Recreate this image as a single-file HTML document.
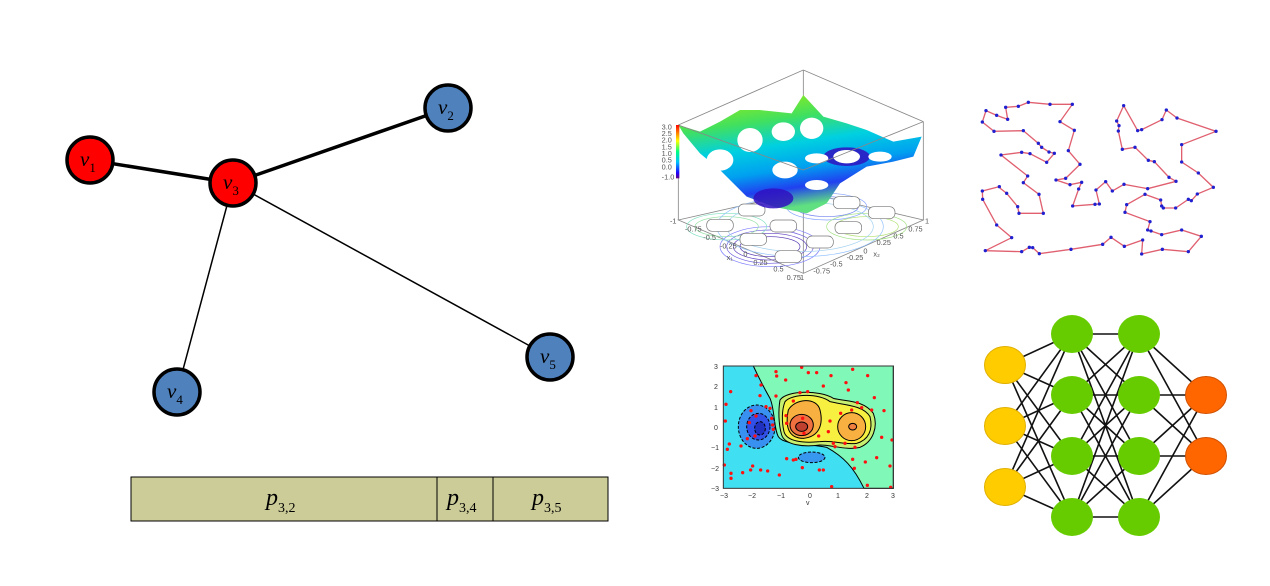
<!DOCTYPE html>
<html><head><meta charset="utf-8"><style>
html,body{margin:0;padding:0;background:#fff;}
svg{display:block}
</style></head><body>
<svg width="1270" height="586" viewBox="0 0 1270 586" xmlns="http://www.w3.org/2000/svg">
<g stroke="#000">
<line x1="90" y1="160" x2="233" y2="183" stroke-width="3.5"/>
<line x1="233" y1="183" x2="448" y2="108" stroke-width="3.5"/>
<line x1="233" y1="183" x2="177" y2="392" stroke-width="1.5"/>
<line x1="233" y1="183" x2="550" y2="357" stroke-width="1.5"/>
</g>
<g stroke="#000" stroke-width="3.5">
<circle cx="90" cy="160" r="23" fill="#ff0000"/>
<circle cx="233" cy="183" r="23" fill="#ff0000"/>
<circle cx="448" cy="108" r="23" fill="#4f81bd"/>
<circle cx="177" cy="392" r="23" fill="#4f81bd"/>
<circle cx="550" cy="357" r="23" fill="#4f81bd"/>
</g>
<g font-family="Liberation Serif, serif" font-style="italic" font-size="21" fill="#000">
<text x="80" y="166">v<tspan font-size="13" font-style="normal" dy="6">1</tspan></text>
<text x="223" y="189">v<tspan font-size="13" font-style="normal" dy="6">3</tspan></text>
<text x="438" y="114">v<tspan font-size="13" font-style="normal" dy="6">2</tspan></text>
<text x="167" y="398">v<tspan font-size="13" font-style="normal" dy="6">4</tspan></text>
<text x="540" y="363">v<tspan font-size="13" font-style="normal" dy="6">5</tspan></text>
</g>
<rect x="131" y="477" width="477" height="44" fill="#cccc99" stroke="#000" stroke-width="1"/>
<line x1="437" y1="477" x2="437" y2="521" stroke="#000"/>
<line x1="493" y1="477" x2="493" y2="521" stroke="#000"/>
<g font-family="Liberation Serif, serif" font-style="italic" font-size="24" fill="#000">
<text x="266" y="505">p<tspan font-size="14" font-style="normal" dy="7">3,2</tspan></text>
<text x="447" y="505">p<tspan font-size="14" font-style="normal" dy="7">3,4</tspan></text>
<text x="532" y="505">p<tspan font-size="14" font-style="normal" dy="7">3,5</tspan></text>
</g>

<defs>
<linearGradient id="sg" x1="0" y1="0" x2="0.3" y2="1">
<stop offset="0" stop-color="#b0f000"/>
<stop offset="0.3" stop-color="#40e060"/>
<stop offset="0.5" stop-color="#00d0e0"/>
<stop offset="0.7" stop-color="#00a0f0"/>
<stop offset="0.85" stop-color="#2040f0"/>
<stop offset="1" stop-color="#60e080"/>
</linearGradient>
<linearGradient id="cb" x1="0" y1="0" x2="0" y2="1">
<stop offset="0" stop-color="#ff0000"/><stop offset="0.3" stop-color="#ffff00"/>
<stop offset="0.5" stop-color="#00ff80"/><stop offset="0.7" stop-color="#00c0ff"/>
<stop offset="0.9" stop-color="#2000ff"/><stop offset="1" stop-color="#600080"/>
</linearGradient>
</defs>
<g transform="translate(660,60) scale(0.33333)">
<g stroke="#888" stroke-width="2.5" fill="none">
<polygon points="55,480 430,395 790,480 430,640" fill="#fff"/>
<line x1="55" y1="195" x2="55" y2="480"/>
<line x1="790" y1="185" x2="790" y2="480"/>
<line x1="430" y1="30" x2="430" y2="395"/>
<line x1="430" y1="330" x2="430" y2="640"/>
<line x1="55" y1="195" x2="430" y2="30"/>
<line x1="430" y1="30" x2="790" y2="185"/>
</g>
<g fill="none" stroke-width="2">
<ellipse cx="330" cy="560" rx="150" ry="60" stroke="#8080ff"/>
<ellipse cx="330" cy="560" rx="130" ry="50" stroke="#7060e0"/>
<ellipse cx="330" cy="560" rx="110" ry="40" stroke="#6040c0"/>
<ellipse cx="330" cy="560" rx="90" ry="30" stroke="#5030b0"/>
<ellipse cx="500" cy="440" rx="120" ry="40" stroke="#80a0ff"/>
<ellipse cx="500" cy="440" rx="95" ry="30" stroke="#7080f0"/>
<ellipse cx="200" cy="500" rx="120" ry="40" stroke="#80e0c0"/>
<ellipse cx="200" cy="500" rx="95" ry="30" stroke="#90e0a0"/>
<ellipse cx="620" cy="500" rx="120" ry="40" stroke="#a0e080"/>
<ellipse cx="620" cy="500" rx="95" ry="30" stroke="#b0e070"/>
<ellipse cx="420" cy="500" rx="250" ry="90" stroke="#90c0ff"/>
<ellipse cx="420" cy="500" rx="220" ry="75" stroke="#a0d0f0"/>
</g>
<g fill="#fff" stroke="#777" stroke-width="2">
<rect x="235" y="432" width="80" height="36" rx="16"/>
<rect x="140" y="478" width="80" height="36" rx="16"/>
<rect x="330" y="480" width="80" height="36" rx="16"/>
<rect x="240" y="520" width="80" height="36" rx="16"/>
<rect x="345" y="572" width="80" height="36" rx="16"/>
<rect x="440" y="528" width="80" height="36" rx="16"/>
<rect x="525" y="485" width="80" height="36" rx="16"/>
<rect x="625" y="440" width="80" height="36" rx="16"/>
<rect x="520" y="410" width="80" height="36" rx="16"/>
</g>
<polygon points="55,195 120,215 180,185 240,150 300,150 395,160 430,105 490,170 560,190 620,210 700,245 785,230 760,290 700,305 620,320 540,370 500,430 440,460 340,440 260,410 230,380 180,330 120,280 70,220" fill="url(#sg)"/>
<ellipse cx="340" cy="415" rx="60" ry="30" fill="#3010c0" opacity="0.85"/>
<ellipse cx="560" cy="290" rx="70" ry="28" fill="#3010c0" opacity="0.85"/>
<g fill="#fff">
<ellipse cx="270" cy="240" rx="38" ry="36"/>
<ellipse cx="370" cy="215" rx="35" ry="28"/>
<ellipse cx="455" cy="205" rx="35" ry="32"/>
<ellipse cx="180" cy="300" rx="40" ry="32"/>
<ellipse cx="375" cy="330" rx="38" ry="25"/>
<ellipse cx="560" cy="290" rx="40" ry="20"/>
<ellipse cx="470" cy="295" rx="35" ry="15"/>
<ellipse cx="470" cy="375" rx="35" ry="15"/>
<ellipse cx="660" cy="290" rx="35" ry="15"/>
</g>
<g stroke="#888" stroke-width="2.5" fill="none">
<line x1="55" y1="195" x2="430" y2="330"/>
<line x1="790" y1="185" x2="430" y2="330"/>
</g>
<rect x="48" y="195" width="10" height="160" fill="url(#cb)"/>
<g font-family="Liberation Sans, sans-serif" font-size="22" fill="#555">
<text x="5" y="208">3.0</text><text x="5" y="228">2.5</text><text x="5" y="248">2.0</text>
<text x="5" y="268">1.5</text><text x="5" y="288">1.0</text><text x="5" y="308">0.5</text>
<text x="5" y="328">0.0</text><text x="5" y="358">-1.0</text>
<text x="30" y="490">-1</text><text x="75" y="515">-0.75</text><text x="130" y="540">-0.5</text>
<text x="180" y="565">-0.25</text><text x="250" y="590">0</text><text x="280" y="615">0.25</text>
<text x="340" y="635">0.5</text><text x="380" y="660">0.75</text><text x="420" y="660">1</text>
<text x="200" y="600">x₁</text><text x="640" y="590">x₂</text>
<text x="795" y="490">1</text><text x="745" y="515">0.75</text><text x="700" y="535">0.5</text>
<text x="650" y="555">0.25</text><text x="610" y="580">0</text><text x="560" y="600">-0.25</text>
<text x="510" y="620">-0.5</text><text x="460" y="640">-0.75</text>
</g>
</g>

<g transform="translate(970,90) scale(0.33333)">
<polyline fill="none" stroke="#e06070" stroke-width="4" points="46,482 125,443 80,405 38,328 37,303 88,290 92,296 110,310 143,350 147,370 220,370 207,313 160,278 173,258 93,195 155,187 180,191 230,217 253,190 237,186 215,172 205,160 160,122 72,124 37,96 48,62 80,76 113,88 107,52 145,49 175,37 240,43 307,43 270,95 313,121 295,182 330,223 287,265 258,270 300,284 335,277 326,297 308,348 375,343 388,342 378,300 407,275 427,303 462,283 533,296 618,274 597,262 553,215 535,211 495,172 457,178 445,123 447,107 440,93 461,47 503,122 515,119 576,89 589,60 621,84 738,124 635,164 635,216 685,249 730,292 682,312 664,332 655,328 617,354 580,354 575,348 572,330 525,313 470,344 465,367 540,395 533,420 543,423 575,434 635,420 694,439 655,485 577,478 515,492 518,450 463,469 423,442 398,463 303,478 208,491 188,473 178,472 155,485 46,482"/>
<g fill="#2020d0">
<circle cx="46" cy="482" r="5"/><circle cx="125" cy="443" r="5"/><circle cx="80" cy="405" r="5"/><circle cx="38" cy="328" r="5"/><circle cx="37" cy="303" r="5"/><circle cx="88" cy="290" r="5"/><circle cx="110" cy="310" r="5"/><circle cx="143" cy="350" r="5"/><circle cx="147" cy="370" r="5"/><circle cx="220" cy="370" r="5"/><circle cx="207" cy="313" r="5"/><circle cx="160" cy="278" r="5"/><circle cx="173" cy="258" r="5"/><circle cx="93" cy="195" r="5"/><circle cx="155" cy="187" r="5"/><circle cx="180" cy="191" r="5"/><circle cx="230" cy="217" r="5"/><circle cx="253" cy="190" r="5"/><circle cx="237" cy="186" r="5"/><circle cx="215" cy="172" r="5"/><circle cx="205" cy="160" r="5"/><circle cx="160" cy="122" r="5"/><circle cx="72" cy="124" r="5"/><circle cx="37" cy="96" r="5"/><circle cx="48" cy="62" r="5"/><circle cx="80" cy="76" r="5"/><circle cx="113" cy="88" r="5"/><circle cx="107" cy="52" r="5"/><circle cx="145" cy="49" r="5"/><circle cx="175" cy="37" r="5"/><circle cx="240" cy="43" r="5"/><circle cx="307" cy="43" r="5"/><circle cx="270" cy="95" r="5"/><circle cx="313" cy="121" r="5"/><circle cx="295" cy="182" r="5"/><circle cx="330" cy="223" r="5"/><circle cx="287" cy="265" r="5"/><circle cx="258" cy="270" r="5"/><circle cx="300" cy="284" r="5"/><circle cx="335" cy="277" r="5"/><circle cx="326" cy="297" r="5"/><circle cx="308" cy="348" r="5"/><circle cx="375" cy="343" r="5"/><circle cx="388" cy="342" r="5"/><circle cx="378" cy="300" r="5"/><circle cx="407" cy="275" r="5"/><circle cx="427" cy="303" r="5"/><circle cx="462" cy="283" r="5"/><circle cx="533" cy="296" r="5"/><circle cx="618" cy="274" r="5"/><circle cx="597" cy="262" r="5"/><circle cx="553" cy="215" r="5"/><circle cx="535" cy="211" r="5"/><circle cx="495" cy="172" r="5"/><circle cx="457" cy="178" r="5"/><circle cx="445" cy="123" r="5"/><circle cx="447" cy="107" r="5"/><circle cx="440" cy="93" r="5"/><circle cx="461" cy="47" r="5"/><circle cx="503" cy="122" r="5"/><circle cx="515" cy="119" r="5"/><circle cx="576" cy="89" r="5"/><circle cx="589" cy="60" r="5"/><circle cx="621" cy="84" r="5"/><circle cx="738" cy="124" r="5"/><circle cx="635" cy="164" r="5"/><circle cx="635" cy="216" r="5"/><circle cx="685" cy="249" r="5"/><circle cx="730" cy="292" r="5"/><circle cx="682" cy="312" r="5"/><circle cx="664" cy="332" r="5"/><circle cx="655" cy="328" r="5"/><circle cx="617" cy="354" r="5"/><circle cx="580" cy="354" r="5"/><circle cx="575" cy="348" r="5"/><circle cx="572" cy="330" r="5"/><circle cx="525" cy="313" r="5"/><circle cx="470" cy="344" r="5"/><circle cx="465" cy="367" r="5"/><circle cx="540" cy="395" r="5"/><circle cx="533" cy="420" r="5"/><circle cx="543" cy="423" r="5"/><circle cx="575" cy="434" r="5"/><circle cx="635" cy="420" r="5"/><circle cx="694" cy="439" r="5"/><circle cx="655" cy="485" r="5"/><circle cx="577" cy="478" r="5"/><circle cx="515" cy="492" r="5"/><circle cx="518" cy="450" r="5"/><circle cx="463" cy="469" r="5"/><circle cx="423" cy="442" r="5"/><circle cx="398" cy="463" r="5"/><circle cx="303" cy="478" r="5"/><circle cx="208" cy="491" r="5"/><circle cx="188" cy="473" r="5"/><circle cx="178" cy="472" r="5"/><circle cx="155" cy="485" r="5"/>
</g>
</g>

<g transform="translate(720,360) scale(0.33333)">
<rect x="10" y="18" width="510" height="367" fill="#40e0f2"/>
<path d="M100,18 L520,18 L520,385 L432,385 C400,320 370,290 320,262 C260,250 190,255 175,230 C160,200 165,150 150,115 C130,80 115,50 100,18 Z" fill="#80f8b8" stroke="#000" stroke-width="3"/>
<path d="M180,120 C200,90 300,90 340,115 C380,125 430,120 460,160 C475,200 460,245 420,262 C380,272 340,255 300,255 C250,262 195,255 185,225 C175,190 175,150 180,120 Z" fill="#c8f070" stroke="#000" stroke-width="3"/>
<path d="M195,125 C215,100 300,100 330,125 C370,135 430,135 450,170 C460,210 445,240 410,250 C370,255 340,240 300,245 C250,250 200,245 192,215 C185,185 185,150 195,125 Z" fill="#f8f040" stroke="#000" stroke-width="3"/>
<path d="M205,150 C225,115 290,110 300,150 C310,190 300,230 250,235 C205,235 195,200 205,150 Z" fill="#f8b040" stroke="#000" stroke-width="3"/>
<ellipse cx="395" cy="200" rx="42" ry="42" fill="#f8b040" stroke="#000" stroke-width="3"/>
<ellipse cx="398" cy="200" rx="12" ry="10" fill="#f08040" stroke="#000" stroke-width="3"/>
<ellipse cx="245" cy="195" rx="35" ry="32" fill="#f07040" stroke="#000" stroke-width="3"/>
<ellipse cx="245" cy="200" rx="18" ry="14" fill="#c04030" stroke="#000" stroke-width="3"/>
<ellipse cx="110" cy="200" rx="55" ry="65" fill="#3890f0" stroke="#000" stroke-width="3" stroke-dasharray="9,5"/>
<ellipse cx="115" cy="200" rx="35" ry="40" fill="#3050e8" stroke="#000" stroke-width="3" stroke-dasharray="9,5"/>
<ellipse cx="120" cy="205" rx="16" ry="20" fill="#2030c0" stroke="#000" stroke-width="3" stroke-dasharray="9,5"/>
<ellipse cx="275" cy="292" rx="40" ry="16" fill="#3898f0" stroke="#000" stroke-width="3" stroke-dasharray="9,5"/>
<g fill="#ff1010">
<circle cx="108" cy="47" r="5"/><circle cx="168" cy="35" r="5"/><circle cx="245" cy="22" r="5"/><circle cx="265" cy="38" r="5"/><circle cx="290" cy="38" r="5"/><circle cx="333" cy="47" r="5"/><circle cx="398" cy="28" r="5"/><circle cx="443" cy="47" r="5"/><circle cx="378" cy="68" r="5"/><circle cx="385" cy="90" r="5"/><circle cx="463" cy="113" r="5"/><circle cx="492" cy="152" r="5"/><circle cx="516" cy="240" r="5"/><circle cx="485" cy="232" r="5"/><circle cx="436" cy="306" r="5"/><circle cx="470" cy="293" r="5"/><circle cx="510" cy="318" r="5"/><circle cx="398" cy="298" r="5"/><circle cx="403" cy="325" r="5"/><circle cx="442" cy="376" r="5"/><circle cx="512" cy="382" r="5"/><circle cx="335" cy="380" r="5"/><circle cx="298" cy="330" r="5"/><circle cx="310" cy="330" r="5"/><circle cx="247" cy="323" r="5"/><circle cx="220" cy="300" r="5"/><circle cx="200" cy="296" r="5"/><circle cx="178" cy="345" r="5"/><circle cx="143" cy="333" r="5"/><circle cx="122" cy="330" r="5"/><circle cx="98" cy="318" r="5"/><circle cx="92" cy="330" r="5"/><circle cx="68" cy="338" r="5"/><circle cx="33" cy="340" r="5"/><circle cx="33" cy="355" r="5"/><circle cx="13" cy="315" r="5"/><circle cx="22" cy="268" r="5"/><circle cx="28" cy="252" r="5"/><circle cx="63" cy="258" r="5"/><circle cx="16" cy="183" r="5"/><circle cx="18" cy="133" r="5"/><circle cx="32" cy="95" r="5"/><circle cx="120" cy="107" r="5"/><circle cx="123" cy="75" r="5"/><circle cx="197" cy="60" r="5"/><circle cx="170" cy="48" r="5"/><circle cx="168" cy="108" r="5"/><circle cx="240" cy="98" r="5"/><circle cx="263" cy="95" r="5"/><circle cx="310" cy="78" r="5"/><circle cx="220" cy="123" r="5"/><circle cx="198" cy="167" r="5"/><circle cx="200" cy="190" r="5"/><circle cx="248" cy="175" r="5"/><circle cx="252" cy="220" r="5"/><circle cx="296" cy="228" r="5"/><circle cx="330" cy="183" r="5"/><circle cx="325" cy="215" r="5"/><circle cx="340" cy="250" r="5"/><circle cx="345" cy="260" r="5"/><circle cx="362" cy="160" r="5"/><circle cx="395" cy="150" r="5"/><circle cx="425" cy="143" r="5"/><circle cx="412" cy="128" r="5"/><circle cx="375" cy="250" r="5"/><circle cx="405" cy="262" r="5"/><circle cx="455" cy="150" r="5"/><circle cx="88" cy="188" r="5"/><circle cx="108" cy="168" r="5"/><circle cx="93" cy="152" r="5"/><circle cx="155" cy="175" r="5"/><circle cx="158" cy="195" r="5"/><circle cx="160" cy="208" r="5"/><circle cx="150" cy="145" r="5"/><circle cx="138" cy="140" r="5"/><circle cx="105" cy="228" r="5"/><circle cx="82" cy="236" r="5"/><circle cx="228" cy="298" r="5"/>
</g>
<rect x="10" y="18" width="510" height="367" fill="none" stroke="#333" stroke-width="3"/>
</g>
<g font-family="Liberation Sans, sans-serif" font-size="7" fill="#333">
<text x="714" y="369">3</text><text x="714" y="389">2</text><text x="714" y="410">1</text><text x="714" y="430">0</text>
<text x="711" y="450">−1</text><text x="711" y="471">−2</text><text x="711" y="491">−3</text>
<text x="720" y="498">−3</text><text x="748" y="498">−2</text><text x="777" y="498">−1</text><text x="808" y="498">0</text>
<text x="836" y="498">1</text><text x="865" y="498">2</text><text x="891" y="498">3</text>
<text x="806" y="505">v</text>
</g>

<g stroke="#111" stroke-width="1.6">
<line x1="1005" y1="365" x2="1072" y2="334"/><line x1="1005" y1="365" x2="1072" y2="395"/><line x1="1005" y1="365" x2="1072" y2="456"/><line x1="1005" y1="365" x2="1072" y2="517"/>
<line x1="1005" y1="426" x2="1072" y2="334"/><line x1="1005" y1="426" x2="1072" y2="395"/><line x1="1005" y1="426" x2="1072" y2="456"/><line x1="1005" y1="426" x2="1072" y2="517"/>
<line x1="1005" y1="487" x2="1072" y2="334"/><line x1="1005" y1="487" x2="1072" y2="395"/><line x1="1005" y1="487" x2="1072" y2="456"/><line x1="1005" y1="487" x2="1072" y2="517"/>
<line x1="1072" y1="334" x2="1139" y2="334"/><line x1="1072" y1="334" x2="1139" y2="395"/><line x1="1072" y1="334" x2="1139" y2="456"/><line x1="1072" y1="334" x2="1139" y2="517"/>
<line x1="1072" y1="395" x2="1139" y2="334"/><line x1="1072" y1="395" x2="1139" y2="395"/><line x1="1072" y1="395" x2="1139" y2="456"/><line x1="1072" y1="395" x2="1139" y2="517"/>
<line x1="1072" y1="456" x2="1139" y2="334"/><line x1="1072" y1="456" x2="1139" y2="395"/><line x1="1072" y1="456" x2="1139" y2="456"/><line x1="1072" y1="456" x2="1139" y2="517"/>
<line x1="1072" y1="517" x2="1139" y2="334"/><line x1="1072" y1="517" x2="1139" y2="395"/><line x1="1072" y1="517" x2="1139" y2="456"/><line x1="1072" y1="517" x2="1139" y2="517"/>
<line x1="1139" y1="334" x2="1206" y2="395"/><line x1="1139" y1="334" x2="1206" y2="456"/>
<line x1="1139" y1="395" x2="1206" y2="395"/><line x1="1139" y1="395" x2="1206" y2="456"/>
<line x1="1139" y1="456" x2="1206" y2="395"/><line x1="1139" y1="456" x2="1206" y2="456"/>
<line x1="1139" y1="517" x2="1206" y2="395"/><line x1="1139" y1="517" x2="1206" y2="456"/>
</g>
<g>
<g fill="#ffcc00" stroke="#e0b000" stroke-width="1">
<ellipse cx="1005" cy="365" rx="20.5" ry="18.5"/><ellipse cx="1005" cy="426" rx="20.5" ry="18.5"/><ellipse cx="1005" cy="487" rx="20.5" ry="18.5"/>
</g>
<g fill="#66cc00">
<ellipse cx="1072" cy="334" rx="21" ry="19"/><ellipse cx="1072" cy="395" rx="21" ry="19"/><ellipse cx="1072" cy="456" rx="21" ry="19"/><ellipse cx="1072" cy="517" rx="21" ry="19"/>
<ellipse cx="1139" cy="334" rx="21" ry="19"/><ellipse cx="1139" cy="395" rx="21" ry="19"/><ellipse cx="1139" cy="456" rx="21" ry="19"/><ellipse cx="1139" cy="517" rx="21" ry="19"/>
</g>
<g fill="#ff6600" stroke="#d05000" stroke-width="1">
<ellipse cx="1206" cy="395" rx="20.5" ry="18.5"/><ellipse cx="1206" cy="456" rx="20.5" ry="18.5"/>
</g>
</g>
</svg>
</body></html>
